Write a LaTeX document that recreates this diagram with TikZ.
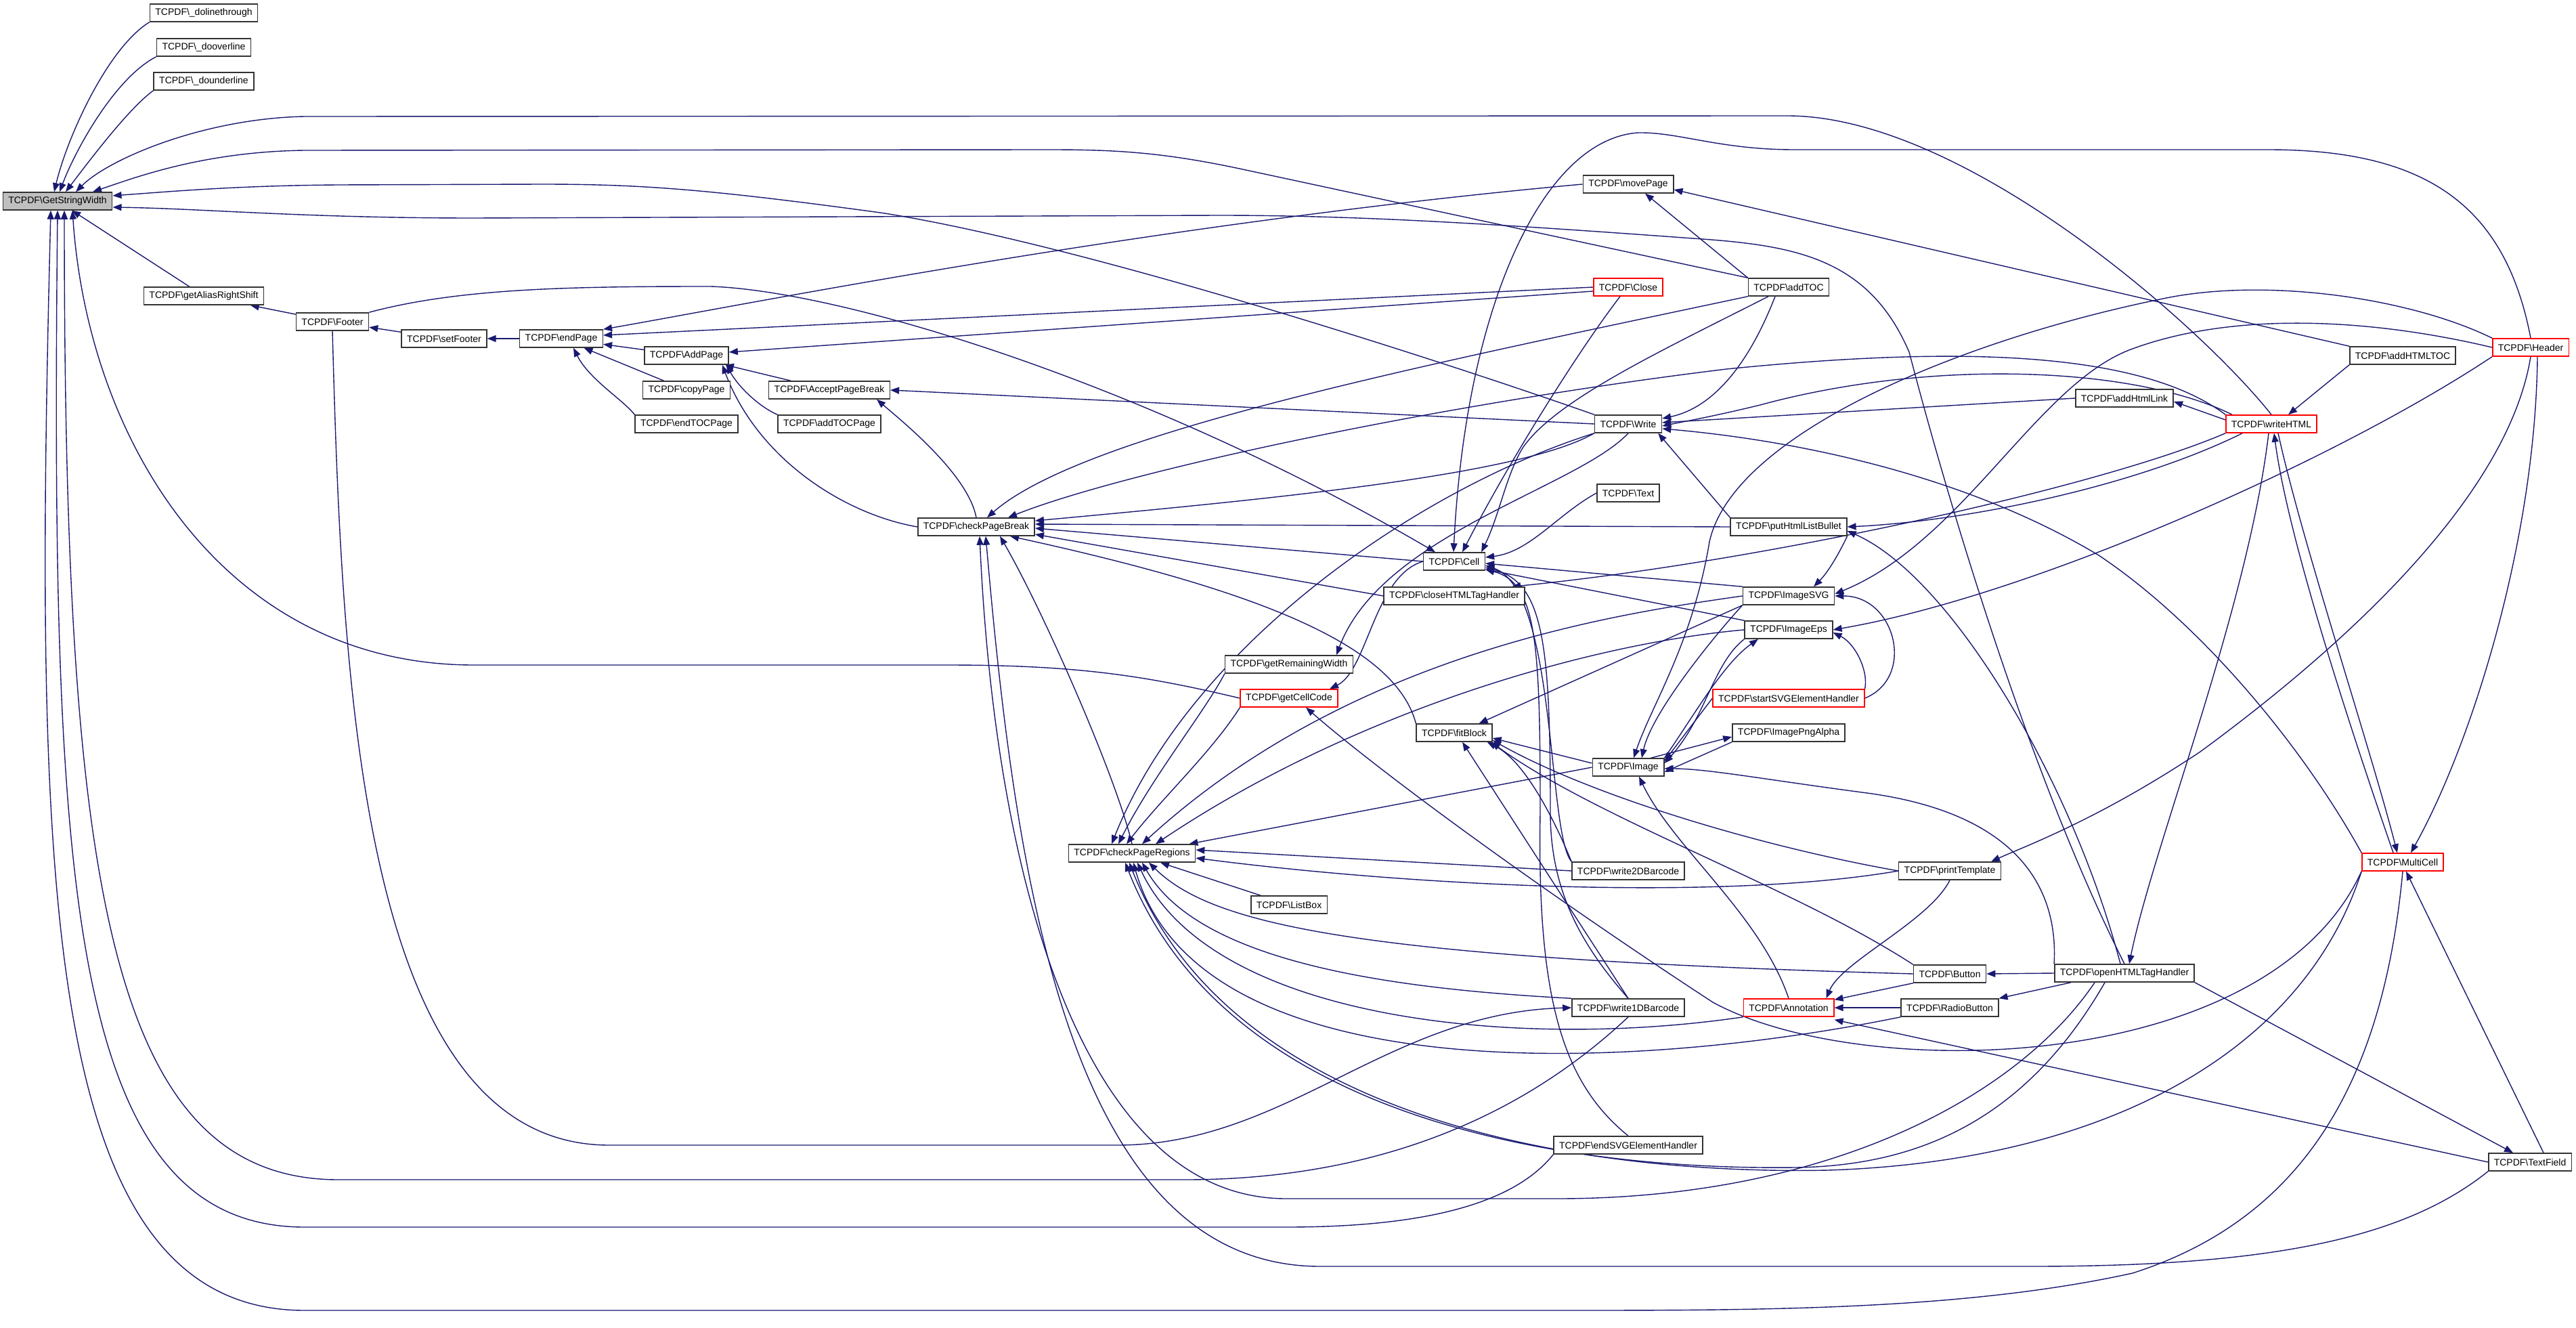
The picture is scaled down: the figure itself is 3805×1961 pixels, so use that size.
\documentclass[tikz,border=0pt]{standalone}
\usepackage{fontspec}
\setmainfont{Liberation Sans}
\usetikzlibrary{arrows.meta,backgrounds}

\definecolor{edgeblue}{HTML}{191970}
\definecolor{boxred}{HTML}{FF0000}
\newcommand{\tcpdf}[1]{TCPDF\textbackslash{}#1}

\begin{document}
\begin{tikzpicture}[x=1pt, y=1pt,
  fn/.style={draw=black!80, line width=1.5pt, fill=white, minimum height=26pt,
    inner xsep=8pt, inner ysep=0pt, font=\fontsize{14pt}{16pt}\selectfont},
  trunc/.style={fn, draw=boxred},
  focus/.style={fn, fill=black!25},
  call/.style={draw=edgeblue, line width=1.4pt, -{Triangle[length=13pt,width=10pt]}}]

\useasboundingbox (0,0) rectangle (3805,-1961);

\node[focus] (gsw) at (85,-297) {\tcpdf{GetStringWidth}};

\node[fn] (dolt) at (301,-19) {\tcpdf{\_dolinethrough}};
\node[fn] (doov) at (301,-70) {\tcpdf{\_dooverline}};
\node[fn] (doun) at (301,-120) {\tcpdf{\_dounderline}};
\node[fn] (gars) at (301,-437) {\tcpdf{getAliasRightShift}};

\node[fn] (footer) at (491,-475) {\tcpdf{Footer}};
\node[fn] (setfooter) at (656,-500) {\tcpdf{setFooter}};
\node[fn] (endpage) at (829,-500) {\tcpdf{endPage}};
\node[fn] (addpage) at (1014,-525) {\tcpdf{AddPage}};
\node[fn] (copypage) at (1014,-576) {\tcpdf{copyPage}};
\node[fn] (endtocpage) at (1014,-626) {\tcpdf{endTOCPage}};
\node[fn] (acceptpb) at (1225,-576) {\tcpdf{AcceptPageBreak}};
\node[fn] (addtocpage) at (1225,-626) {\tcpdf{addTOCPage}};

\node[fn] (checkpb) at (1442,-778) {\tcpdf{checkPageBreak}};
\node[fn] (checkpr) at (1672,-1260) {\tcpdf{checkPageRegions}};
\node[fn] (getremw) at (1904,-981) {\tcpdf{getRemainingWidth}};
\node[trunc] (getcellcode) at (1904,-1031) {\tcpdf{getCellCode}};
\node[fn] (listbox) at (1904,-1336) {\tcpdf{ListBox}};

\node[fn] (cell) at (2148,-829) {\tcpdf{Cell}};
\node[fn] (closehtml) at (2148,-880) {\tcpdf{closeHTMLTagHandler}};
\node[fn] (fitblock) at (2148,-1082) {\tcpdf{fitBlock}};

\node[fn] (movepage) at (2405,-272) {\tcpdf{movePage}};
\node[trunc] (close) at (2405,-424) {\tcpdf{Close}};
\node[fn] (write) at (2405,-626) {\tcpdf{Write}};
\node[fn] (text) at (2405,-728) {\tcpdf{Text}};
\node[fn] (image) at (2405,-1133) {\tcpdf{Image}};
\node[fn] (write2d) at (2405,-1286) {\tcpdf{write2DBarcode}};
\node[fn] (write1d) at (2405,-1488) {\tcpdf{write1DBarcode}};
\node[fn] (endsvg) at (2405,-1691) {\tcpdf{endSVGElementHandler}};

\node[fn] (addtoc) at (2642,-424) {\tcpdf{addTOC}};
\node[fn] (puthtml) at (2642,-778) {\tcpdf{putHtmlListBullet}};
\node[fn] (imagesvg) at (2642,-880) {\tcpdf{ImageSVG}};
\node[fn] (imageeps) at (2642,-930) {\tcpdf{ImageEps}};
\node[trunc] (startsvg) at (2642,-1031) {\tcpdf{startSVGElementHandler}};
\node[fn] (pngalpha) at (2642,-1082) {\tcpdf{ImagePngAlpha}};
\node[trunc] (annotation) at (2642,-1488) {\tcpdf{Annotation}};

\node[fn] (printtpl) at (2880,-1286) {\tcpdf{printTemplate}};
\node[fn] (button) at (2880,-1438) {\tcpdf{Button}};
\node[fn] (radiobtn) at (2880,-1488) {\tcpdf{RadioButton}};

\node[fn] (addhtmllink) at (3138,-588) {\tcpdf{addHtmlLink}};
\node[fn] (openhtml) at (3138,-1437) {\tcpdf{openHTMLTagHandler}};
\node[trunc] (writehtml) at (3355,-626) {\tcpdf{writeHTML}};
\node[fn] (addhtmltoc) at (3549,-525) {\tcpdf{addHTMLTOC}};
\node[trunc] (multicell) at (3549,-1273) {\tcpdf{MultiCell}};
\node[trunc] (header) at (3738,-513) {\tcpdf{Header}};
\node[fn] (textfield) at (3737,-1716) {\tcpdf{TextField}};

\begin{pgfonlayer}{background}
\draw[call] (dolt.south west) .. controls (160,-70) and (100,-200) .. ([xshift=-5pt]gsw.north);
\draw[call] (doov.south west) .. controls (170,-115) and (112,-220) .. ([xshift=3pt]gsw.north);
\draw[call] (doun.south west) .. controls (190,-160) and (130,-240) .. ([xshift=12pt]gsw.north);
\draw[call] (gars) -- (gsw);
\draw[call] (writehtml.north) .. controls (3250,-480) and (2900,-171) .. (2640,-171) -- (450,-172)
  .. controls (300,-175) and (160,-235) .. ([xshift=27pt]gsw.north);
\draw[call] (addtoc.north west) -- (1840,-251) .. controls (1720,-225) and (1650,-221) .. (1550,-221)
  -- (450,-222) .. controls (300,-224) and (200,-262) .. ([xshift=52pt]gsw.north);
\draw[call] (write.north west) .. controls (2150,-540) and (1600,-360) .. (1300,-314)
  .. controls (1050,-280) and (950,-272) .. (800,-272) -- (500,-273)
  .. controls (350,-274) and (250,-283) .. ([yshift=8pt]gsw.east);
\draw[call] (openhtml.north) .. controls (3000,-1150) and (2880,-750) .. (2820,-520)
  .. controls (2760,-380) and (2650,-362) .. (2500,-352) .. controls (2200,-330) and (2000,-318) .. (1800,-318)
  -- (700,-322) .. controls (450,-322) and (300,-308) .. ([yshift=-9pt]gsw.east);
\draw[call] (getcellcode.west) .. controls (1700,-1000) and (1600,-982) .. (1400,-982) -- (700,-982)
  .. controls (330,-982) and (130,-650) .. ([xshift=22pt]gsw.south);
\draw[call] (write1d.south) .. controls (2300,-1600) and (2100,-1742) .. (1750,-1742) -- (500,-1742)
  .. controls (160,-1742) and (95,-1300) .. ([xshift=10pt]gsw.south);
\draw[call] (endsvg.south west) .. controls (2250,-1760) and (2150,-1812) .. (1900,-1812) -- (450,-1812)
  .. controls (100,-1812) and (75,-1300) .. (gsw.south);
\draw[call] (multicell.south) .. controls (3520,-1600) and (3400,-1800) .. (3150,-1880)
  .. controls (2900,-1935) and (2600,-1935) .. (2300,-1935) -- (450,-1935)
  .. controls (60,-1935) and (50,-1300) .. ([xshift=-10pt]gsw.south);

\draw[call] (footer) -- (gars);
\draw[call] (setfooter) -- (footer);
\draw[call] (endpage) -- (setfooter);
\draw[call] (footer.north east) .. controls (680,-425) and (850,-423) .. (1050,-423)
  .. controls (1250,-430) and (1700,-570) .. ([xshift=-28pt]cell.north);
\draw[call] (footer.south) .. controls (505,-1000) and (530,-1691) .. (900,-1691) -- (1650,-1691)
  .. controls (1900,-1691) and (2050,-1495) .. (write1d.west);

\draw[call] (movepage.west) .. controls (1700,-330) and (1100,-450) .. (endpage.north east);
\draw[call] (close.west) -- ([yshift=5pt]endpage.east);
\draw[call] (addpage) -- (endpage);
\draw[call] (copypage) -- (endpage);
\draw[call] (endtocpage.north west) .. controls (920,-590) and (870,-560) .. ([xshift=18pt]endpage.south);
\draw[call] ([yshift=-6pt]close.west) -- ([yshift=5pt]addpage.east);
\draw[call] (acceptpb) -- (addpage);
\draw[call] (addtocpage.north west) .. controls (1120,-600) and (1090,-570) .. ([xshift=-4pt]addpage.south east);
\draw[call] (checkpb.west) .. controls (1250,-760) and (1120,-680) .. ([xshift=-10pt]addpage.south east);
\draw[call] (checkpb.north) .. controls (1430,-700) and (1330,-620) .. ([xshift=-20pt]acceptpb.south east);
\draw[call] (write.west) -- (acceptpb.east);

\draw[call] (addtoc.south west) .. controls (2100,-540) and (1600,-640) .. ([xshift=16pt]checkpb.north);
\draw[call] (writehtml.north west) .. controls (3150,-510) and (2850,-515) .. (2550,-545)
  .. controls (2100,-600) and (1650,-700) .. ([xshift=47pt]checkpb.north);
\draw[call] (write.south west) .. controls (2250,-700) and (1900,-735) .. ([yshift=9pt]checkpb.east);
\draw[call] (puthtml.west) -- ([yshift=4pt]checkpb.east);
\draw[call] (cell.west) -- ([yshift=-2pt]checkpb.east);
\draw[call] (closehtml.west) -- ([yshift=-11pt]checkpb.east);
\draw[call] (checkpr.north) .. controls (1650,-1150) and (1540,-900) .. ([xshift=35pt]checkpb.south);
\draw[call] (fitblock.north west) .. controls (2060,-950) and (1850,-870) .. ([xshift=50pt]checkpb.south);
\draw[call] ([xshift=60pt]openhtml.south west) .. controls (2980,-1620) and (2700,-1770) .. (2300,-1770)
  -- (1900,-1770) .. controls (1600,-1770) and (1470,-1300) .. ([xshift=5pt]checkpb.south);
\draw[call] (textfield.south west) .. controls (3550,-1830) and (3350,-1870) .. (3000,-1870) -- (1950,-1870)
  .. controls (1580,-1870) and (1500,-1300) .. ([xshift=14pt]checkpb.south);

\draw[call] (write.south west) .. controls (2100,-720) and (1760,-950) .. ([xshift=-30pt]checkpr.north);
\draw[call] (getremw.south west) .. controls (1780,-1050) and (1700,-1150) .. ([xshift=-20pt]checkpr.north);
\draw[call] (getcellcode.south west) .. controls (1790,-1110) and (1715,-1180) .. ([xshift=-8pt]checkpr.north);
\draw[call] (imagesvg.west) .. controls (2400,-905) and (2000,-960) .. ([xshift=15pt]checkpr.north);
\draw[call] (imageeps.west) .. controls (2350,-950) and (2000,-1050) .. ([xshift=35pt]checkpr.north);
\draw[call] (image.west) -- ([xshift=-10pt]checkpr.north east);
\draw[call] (write2d.west) -- ([yshift=5pt]checkpr.east);
\draw[call] (printtpl.west) .. controls (2550,-1330) and (2100,-1310) .. ([yshift=-7pt]checkpr.east);
\draw[call] (listbox) -- (checkpr);
\draw[call] (button.west) .. controls (2000,-1415) and (1790,-1365) .. ([xshift=25pt]checkpr.south);
\draw[call] (write1d.north west) .. controls (2050,-1460) and (1770,-1420) .. ([xshift=15pt]checkpr.south);
\draw[call] (annotation.south west) .. controls (2250,-1550) and (1790,-1510) .. ([xshift=8pt]checkpr.south);
\draw[call] (radiobtn.south west) .. controls (2400,-1585) and (1770,-1610) .. ([xshift=2pt]checkpr.south);
\draw[call] (multicell.south west) .. controls (3400,-1560) and (3100,-1715) .. (2700,-1728)
  .. controls (2350,-1735) and (1820,-1660) .. ([xshift=-4pt]checkpr.south);
\draw[call] ([xshift=75pt]openhtml.south west) .. controls (3000,-1640) and (2850,-1722) .. (2650,-1724)
  .. controls (2300,-1728) and (1810,-1650) .. ([xshift=-10pt]checkpr.south);

\draw[call] (header.north) .. controls (3700,-300) and (3580,-221) .. (3350,-221) -- (2650,-221)
  .. controls (2540,-221) and (2480,-195) .. (2420,-196) .. controls (2280,-205) and (2165,-450) .. ([xshift=-1pt]cell.north);
\draw[call] ([xshift=-12pt]close.south) .. controls (2330,-520) and (2230,-680) .. ([xshift=12pt]cell.north);
\draw[call] ([xshift=-30pt]addtoc.south) .. controls (2450,-520) and (2300,-590) .. (2250,-660)
  .. controls (2225,-700) and (2215,-760) .. ([xshift=-6pt]cell.north east);
\draw[call] (text.west) .. controls (2300,-760) and (2260,-815) .. ([yshift=6pt]cell.east);
\draw[call] (imagesvg.north west) -- ([yshift=-3pt]cell.east);
\draw[call] (imageeps.north west) -- ([yshift=2pt]cell.south east);
\draw[call] (write2d.north west) .. controls (2285,-1230) and (2300,-870) .. ([yshift=-6pt]cell.east);
\draw[call] (write1d.north) .. controls (2340,-1400) and (2290,-1320) .. (2290,-1200)
  .. controls (2290,-950) and (2280,-860) .. ([yshift=-9pt]cell.east);
\draw[call] (endsvg.north) .. controls (2310,-1600) and (2270,-1480) .. (2275,-1200)
  .. controls (2275,-950) and (2270,-860) .. ([yshift=-12pt]cell.east);

\draw[call] (write.south) .. controls (2330,-720) and (2040,-790) .. ([xshift=70pt]getremw.north);
\draw[call] (cell.west) .. controls (2030,-850) and (2020,-990) .. ([xshift=60pt]getcellcode.north);
\draw[call] (multicell.south west) .. controls (3350,-1589) and (2750,-1600) .. (2530,-1480)
  .. controls (2300,-1330) and (2050,-1150) .. ([xshift=25pt]getcellcode.south);
\draw[call] (writehtml.south west) .. controls (3100,-720) and (2600,-830) .. ([xshift=85pt]closehtml.north);

\draw[call] (imagesvg.south west) -- ([xshift=-20pt]fitblock.north east);
\draw[call] ([yshift=6pt]image.west) -- ([yshift=-8pt]fitblock.east);
\draw[call] (write2d.north west) .. controls (2300,-1220) and (2255,-1125) .. ([xshift=-8pt]fitblock.south east);
\draw[call] (write1d.north) -- ([xshift=12pt]fitblock.south);
\draw[call] (button.north west) .. controls (2650,-1310) and (2360,-1210) .. ([xshift=-2pt]fitblock.south east);
\draw[call] (printtpl.west) .. controls (2600,-1250) and (2350,-1175) .. ([yshift=-11pt]fitblock.east);

\draw[call] (annotation.north) .. controls (2600,-1350) and (2470,-1250) .. ([xshift=16pt]image.south);
\draw[call] (imageeps.south west) .. controls (2530,-980) and (2520,-1060) .. ([yshift=6pt]image.east);
\draw[call] (image.north east) .. controls (2500,-1060) and (2545,-980) .. ([xshift=-45pt]imageeps.south);
\draw[call] (imagesvg.south west) .. controls (2540,-930) and (2440,-1050) .. ([xshift=20pt]image.north);
\draw[call] ([xshift=-20pt]image.north east) -- ([yshift=-6pt]pngalpha.west);
\draw[call] (pngalpha.south west) -- ([yshift=-7pt]image.east);
\draw[call] (startsvg.west) -- ([yshift=9pt]image.east);
\draw[call] (startsvg.north east) .. controls (2760,-990) and (2740,-950) .. ([yshift=-4pt]imageeps.east);
\draw[call] (startsvg.east) .. controls (2830,-1000) and (2800,-880) .. (imagesvg.east);
\draw[call] (openhtml.north west) .. controls (3040,-1320) and (2990,-1200) .. (2750,-1170)
  .. controls (2600,-1150) and (2520,-1135) .. ([yshift=-2pt]image.east);
\draw[call] (header.north west) .. controls (3560,-440) and (3350,-410) .. (3200,-440)
  .. controls (2900,-500) and (2560,-640) .. (2525,-800) .. controls (2500,-950) and (2440,-1040) .. ([xshift=8pt]image.north);
\draw[call] (header.west) .. controls (3500,-470) and (3300,-460) .. (3150,-515)
  .. controls (3010,-565) and (2900,-800) .. ([yshift=3pt]imagesvg.east);
\draw[call] (header.south west) .. controls (3450,-680) and (3000,-880) .. (imageeps.east);
\draw[call] (header.south) .. controls (3700,-760) and (3400,-1000) .. (3250,-1110)
  .. controls (3100,-1210) and (2990,-1250) .. ([xshift=-15pt]printtpl.north east);
\draw[call] ([xshift=10pt]header.south) .. controls (3745,-800) and (3650,-1100) .. ([xshift=12pt]multicell.north);
\draw[call] (puthtml.south east) .. controls (2715,-820) and (2700,-845) .. ([xshift=37pt]imagesvg.north);

\draw[call] ([yshift=6pt]writehtml.west) -- ([yshift=-5pt]addhtmllink.east);
\draw[call] (addhtmllink.west) -- ([yshift=2pt]write.east);
\draw[call] (addhtmltoc.south west) -- ([xshift=25pt]writehtml.north);
\draw[call] (addhtmltoc.north west) -- ([yshift=-8pt]movepage.east);
\draw[call] (addtoc.north west) -- ([xshift=25pt]movepage.south);
\draw[call] ([xshift=-20pt]addtoc.south) .. controls (2590,-520) and (2540,-600) .. ([yshift=8pt]write.east);
\draw[call] ([xshift=10pt]writehtml.north west) .. controls (3150,-540) and (2850,-530) .. (2600,-598)
  .. controls (2530,-615) and (2490,-622) .. ([yshift=-3pt]write.east);
\draw[call] (puthtml.north west) -- ([xshift=-6pt]write.south east);
\draw[call] ([xshift=25pt]writehtml.south west) .. controls (3150,-720) and (2900,-770) .. (puthtml.east);
\draw[call] ([xshift=-6pt]openhtml.north) .. controls (3060,-1150) and (2880,-850) .. ([yshift=-6pt]puthtml.east);
\draw[call] ([xshift=-4pt]writehtml.south) .. controls (3320,-900) and (3180,-1250) .. ([xshift=7pt]openhtml.north);
\draw[call] ([xshift=10pt]writehtml.south) .. controls (3400,-800) and (3500,-1100) .. ([xshift=-8pt]multicell.north);
\draw[call] ([xshift=-14pt]multicell.north) .. controls (3480,-1100) and (3380,-800) .. ([xshift=4pt]writehtml.south);
\draw[call] (multicell.north west) .. controls (3400,-1100) and (3250,-920) .. (3100,-820)
  .. controls (2900,-700) and (2650,-650) .. ([yshift=-7pt]write.east);

\draw[call] ([xshift=20pt]textfield.north) -- ([xshift=5pt]multicell.south);
\draw[call] (textfield.west) -- ([yshift=-4pt]annotation.south east);
\draw[call] (openhtml.south east) -- ([xshift=-25pt]textfield.north);
\draw[call] (openhtml.west) -- (button.east);
\draw[call] ([xshift=25pt]openhtml.south west) -- (radiobtn.north east);
\draw[call] (printtpl.south) .. controls (2850,-1360) and (2720,-1420) .. ([xshift=-12pt]annotation.north east);
\draw[call] (button.south west) -- ([yshift=-2pt]annotation.north east);
\draw[call] (radiobtn.west) -- (annotation.east);
\end{pgfonlayer}

\end{tikzpicture}
\end{document}
